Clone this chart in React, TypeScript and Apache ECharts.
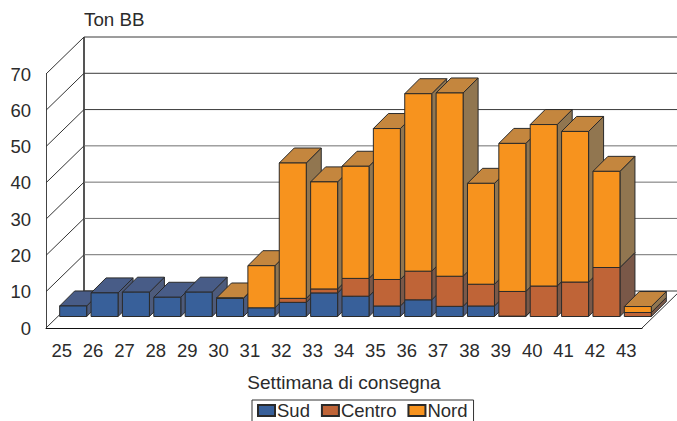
import React, { useEffect, useRef } from "react";
import * as echarts from "echarts";

const weeks = ["25","26","27","28","29","30","31","32","33","34","35","36","37","38","39","40","41","42","43"];
const sud = [2.9,6.5,6.7,5.3,6.7,5.0,2.4,3.9,6.5,5.6,2.9,4.6,2.8,2.9,0.1,0,0,0,0];
const centro = [0,0,0,0,0,0,0,1.1,1.1,4.9,7.3,7.9,8.3,6.0,6.8,8.4,9.5,13.5,1.1];
const nord = [0,0,0,0,0,0.1,11.6,37.3,29.5,30.9,41.6,48.9,50.5,27.8,40.8,44.5,41.5,26.5,1.65];
const yTicks = [0,10,20,30,40,50,60,70];
const stackNames = ["Sud","Centro","Nord"];

const FONT = "'Liberation Sans', Arial, sans-serif";
const TEXT = "#2b2b2b";
const EDGE = "#2a2a2a";
const WALL = "#555555";
const DX = 38, DY = 37;         // depth of the chart box
const BAR_OFF = 11.5, BAR_W = 27, BAR_D = 15;

const palette = [
  { front: "#38609a", side: "#4d5b7c", top: "#485c87" },
  { front: "#bf6437", side: "#7a5848", top: "#a0633f" },
  { front: "#f7931e", side: "#917650", top: "#c4863e" },
];
const stacks = [sud, centro, nord];

const poly = (points: number[][], fill: string, z2: number) => ({
  type: "polygon",
  z2,
  shape: { points },
  style: { fill, stroke: EDGE, lineWidth: 1, lineJoin: "round" },
  silent: true,
});

const barRender = (stackIdx: number) => (params: any, api: any) => {
  const i = api.value(0);
  const base = api.value(1);
  const top = api.value(2);
  if (top <= base) return { type: "group", children: [] };
  const b = api.coord([i, base]);
  const t = api.coord([i, top]);
  const l = b[0] + BAR_OFF - BAR_W / 2;
  const r = l + BAR_W;
  const yb = b[1] - BAR_OFF;
  const yt = t[1] - BAR_OFF;
  const z = 100 + i * 20 + stackIdx * 4;
  const isTop = stacks.slice(stackIdx + 1).every((s) => s[i] === 0);
  const kids: any[] = [
    poly([[r, yb], [r + BAR_D, yb - BAR_D], [r + BAR_D, yt - BAR_D], [r, yt]], palette[stackIdx].side, z),
  ];
  if (isTop) {
    kids.push(poly([[l, yt], [l + BAR_D, yt - BAR_D], [r + BAR_D, yt - BAR_D], [r, yt]], palette[stackIdx].top, z + 1));
  }
  kids.push(poly([[l, yb], [r, yb], [r, yt], [l, yt]], palette[stackIdx].front, z + 2));
  return { type: "group", children: kids };
};

const wallRender = (params: any, api: any) => {
  const v = api.value(0);
  const cs = params.coordSys;
  const left = cs.x;
  const right = cs.x + cs.width;
  const y = api.coord([0, v])[1];
  const line = (x1: number, y1: number, x2: number, y2: number, stroke: string, lineWidth: number) => ({
    type: "line",
    z2: 1,
    silent: true,
    shape: { x1, y1, x2, y2 },
    style: { stroke, lineWidth },
  });
  const kids: any[] = [
    line(left, y, left + DX, y - DY, "#333333", 1),
    line(left + DX, y - DY, right + DX, y - DY, v >= 50 || v === 0 ? "#3a3a3a" : "#707070", 1),
  ];
  if (v === 0) {
    kids.push(line(left + DX, y - DY, left + DX, cs.y - DY, WALL, 2));
    kids.push(line(right, y, right + DX, y - DY, "#333333", 1));
  }
  return { type: "group", children: kids };
};

const buildData = (idx: number) =>
  weeks.map((_, i) => {
    let base = 0;
    for (let k = 0; k < idx; k++) base += stacks[k][i];
    return [i, base, base + stacks[idx][i]];
  });

export default function App() {
  const ref = useRef<HTMLDivElement>(null);
  useEffect(() => {
    const chart = echarts.init(ref.current!, null, { renderer: "svg" });
    chart.setOption({
      animation: false,
      textStyle: { fontFamily: FONT },
      grid: { left: 46, right: 35, top: 74, bottom: 93, containLabel: false },
      legend: {
        data: stackNames,
        left: 252,
        top: 400,
        padding: [1, 6, 30, 5],
        itemWidth: 17,
        itemHeight: 11,
        itemGap: 11,
        icon: "rect",
        selectedMode: false,
        borderColor: "#333333",
        borderWidth: 1,
        textStyle: { fontFamily: FONT, fontSize: 18.5, color: TEXT, padding: [0, 0, 0, -3] },
      },
      xAxis: {
        type: "category",
        data: weeks,
        name: "Settimana di consegna",
        nameLocation: "middle",
        nameGap: 45,
        nameTextStyle: { fontFamily: FONT, fontSize: 19, color: TEXT },
        axisLine: { show: true, lineStyle: { color: "#111111", width: 1 } },
        axisTick: { show: false },
        axisLabel: { interval: 0, margin: 13, fontFamily: FONT, fontSize: 18.5, color: TEXT },
      },
      yAxis: {
        type: "value",
        min: 0,
        max: 70,
        interval: 10,
        name: "Ton BB",
        nameLocation: "end",
        nameGap: 55,
        nameTextStyle: { fontFamily: FONT, fontSize: 18.8, color: TEXT, align: "left", padding: [0, 0, 0, 38], verticalAlign: "middle" },
        axisLine: { show: true, lineStyle: { color: "#444444", width: 1 } },
        axisTick: { show: false },
        splitLine: { show: false },
        axisLabel: { margin: 15, fontFamily: FONT, fontSize: 18.5, color: TEXT },
      },
      series: [
        {
          type: "custom",
          name: "Griglia",
          silent: true,
          clip: false,
          z: 1,
          renderItem: wallRender,
          data: yTicks.map((v) => [v]),
          encode: { y: 0 },
        },
        ...stackNames.map((name, idx) => ({
          type: "custom",
          name,
          silent: true,
          clip: false,
          z: 2,
          itemStyle: { color: palette[idx].front, borderColor: EDGE, borderWidth: 1 },
          renderItem: barRender(idx),
          data: buildData(idx),
          encode: { x: 0, y: 2 },
        })),
      ],
    });
    return () => chart.dispose();
  }, []);
  return <div ref={ref} style={{ position: "absolute", left: 0, top: 0, width: 677, height: 421 }} />;
}
